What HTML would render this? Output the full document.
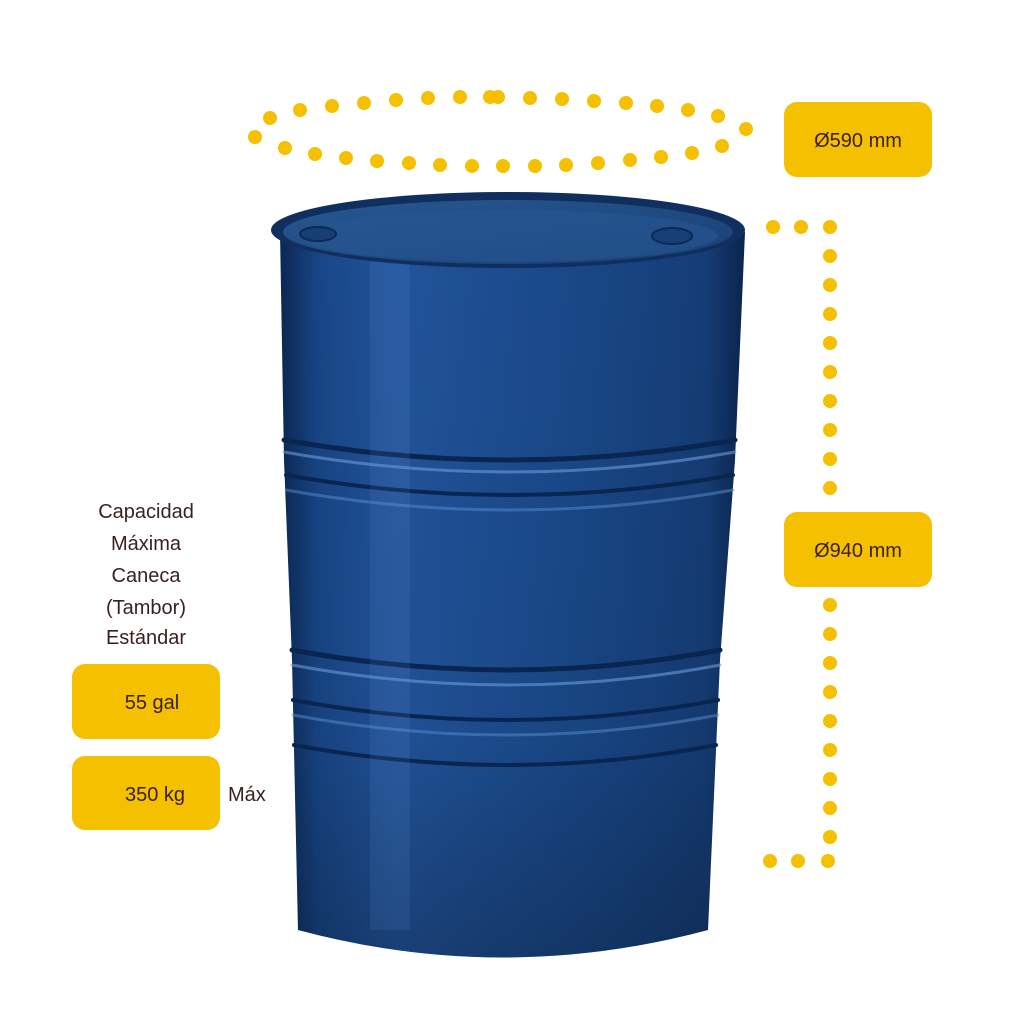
<!DOCTYPE html>
<html><head><meta charset="utf-8"><style>
html,body{margin:0;padding:0;background:#fff;width:1024px;height:1024px;overflow:hidden}
svg{display:block}
text{font-family:"Liberation Sans",sans-serif;fill:#3a1f1f}
</style></head><body>
<svg width="1024" height="1024" viewBox="0 0 1024 1024">
<defs>
<linearGradient id="body" x1="0" x2="1" y1="0" y2="0">
<stop offset="0" stop-color="#0b2752"/>
<stop offset="0.08" stop-color="#184585"/>
<stop offset="0.25" stop-color="#22549c"/>
<stop offset="0.4" stop-color="#1e4f94"/>
<stop offset="0.7" stop-color="#184584"/>
<stop offset="0.92" stop-color="#153c74"/>
<stop offset="1" stop-color="#0a244d"/>
</linearGradient>
<linearGradient id="top" x1="0" x2="1" y1="0" y2="1">
<stop offset="0" stop-color="#275893"/>
<stop offset="1" stop-color="#193f72"/>
</linearGradient>
<linearGradient id="shade" x1="0" x2="0" y1="0" y2="1">
<stop offset="0" stop-color="#000" stop-opacity="0"/>
<stop offset="0.7" stop-color="#000" stop-opacity="0.05"/>
<stop offset="1" stop-color="#000" stop-opacity="0.25"/>
</linearGradient>
</defs>
<path d="M280 232 L745 232 L735 460 L720 660 L708 930 Q503 985 298 930 L292 660 L284 460 Z" fill="url(#body)"/>
<path d="M280 232 L745 232 L735 460 L720 660 L708 930 Q503 985 298 930 L292 660 L284 460 Z" fill="url(#shade)"/>
<g fill="none" stroke-linecap="round">
<path d="M284 440 Q510 480 735 440" stroke="#0a2550" stroke-width="5"/>
<path d="M284 452 Q510 492 735 452" stroke="#6d9bd6" stroke-width="3" opacity="0.6"/>
<path d="M286 475 Q510 515 733 475" stroke="#0a2550" stroke-width="4"/>
<path d="M286 490 Q510 530 733 490" stroke="#5a8bcc" stroke-width="3" opacity="0.5"/>
<path d="M292 650 Q510 690 720 650" stroke="#0a2550" stroke-width="5"/>
<path d="M292 665 Q510 705 720 665" stroke="#6d9bd6" stroke-width="3" opacity="0.6"/>
<path d="M293 700 Q510 740 718 700" stroke="#0a2550" stroke-width="4"/>
<path d="M293 715 Q510 755 718 715" stroke="#5a8bcc" stroke-width="3" opacity="0.5"/>
<path d="M294 745 Q510 785 716 745" stroke="#0a2550" stroke-width="4"/>
</g>
<rect x="370" y="250" width="40" height="680" fill="#6f9fdc" opacity="0.12"/>
<ellipse cx="508" cy="230" rx="237" ry="38" fill="#112f5e"/>
<ellipse cx="508" cy="232" rx="225" ry="32" fill="url(#top)"/>
<ellipse cx="508" cy="236" rx="210" ry="26" fill="#265792" opacity="0.6"/>
<ellipse cx="318" cy="234" rx="18" ry="7" fill="#173f75" stroke="#0c2a55" stroke-width="2"/>
<ellipse cx="672" cy="236" rx="20" ry="8" fill="#173f75" stroke="#0c2a55" stroke-width="2"/>
<g fill="#f5c000">
<circle cx="255" cy="137" r="7"/><circle cx="270" cy="118" r="7"/><circle cx="300" cy="110" r="7"/>
<circle cx="332" cy="106" r="7"/><circle cx="364" cy="103" r="7"/><circle cx="396" cy="100" r="7"/>
<circle cx="428" cy="98" r="7"/><circle cx="460" cy="97" r="7"/><circle cx="490" cy="97" r="7"/>
<circle cx="498" cy="97" r="7"/><circle cx="530" cy="98" r="7"/><circle cx="562" cy="99" r="7"/>
<circle cx="594" cy="101" r="7"/><circle cx="626" cy="103" r="7"/><circle cx="657" cy="106" r="7"/>
<circle cx="688" cy="110" r="7"/><circle cx="718" cy="116" r="7"/><circle cx="746" cy="129" r="7"/>
<circle cx="722" cy="146" r="7"/><circle cx="692" cy="153" r="7"/><circle cx="661" cy="157" r="7"/>
<circle cx="630" cy="160" r="7"/><circle cx="598" cy="163" r="7"/><circle cx="566" cy="165" r="7"/>
<circle cx="535" cy="166" r="7"/><circle cx="503" cy="166" r="7"/><circle cx="472" cy="166" r="7"/>
<circle cx="440" cy="165" r="7"/><circle cx="409" cy="163" r="7"/><circle cx="377" cy="161" r="7"/>
<circle cx="346" cy="158" r="7"/><circle cx="315" cy="154" r="7"/><circle cx="285" cy="148" r="7"/>
<circle cx="773" cy="227" r="7"/><circle cx="801" cy="227" r="7"/>
<circle cx="830" cy="227" r="7"/><circle cx="830" cy="256" r="7"/><circle cx="830" cy="285" r="7"/>
<circle cx="830" cy="314" r="7"/><circle cx="830" cy="343" r="7"/><circle cx="830" cy="372" r="7"/>
<circle cx="830" cy="401" r="7"/><circle cx="830" cy="430" r="7"/><circle cx="830" cy="459" r="7"/>
<circle cx="830" cy="488" r="7"/>
<circle cx="830" cy="605" r="7"/><circle cx="830" cy="634" r="7"/><circle cx="830" cy="663" r="7"/>
<circle cx="830" cy="692" r="7"/><circle cx="830" cy="721" r="7"/><circle cx="830" cy="750" r="7"/>
<circle cx="830" cy="779" r="7"/><circle cx="830" cy="808" r="7"/><circle cx="830" cy="837" r="7"/>
<circle cx="828" cy="861" r="7"/><circle cx="798" cy="861" r="7"/><circle cx="770" cy="861" r="7"/>
</g>
<g fill="#f5c000">
<rect x="784" y="102" width="148" height="75" rx="13"/>
<rect x="784" y="512" width="148" height="75" rx="13"/>
<rect x="72" y="664" width="148" height="75" rx="13"/>
<rect x="72" y="756" width="148" height="74" rx="13"/>
</g>
<text x="858" y="147" font-size="20" text-anchor="middle">Ø590 mm</text>
<text x="858" y="557" font-size="20" text-anchor="middle">Ø940 mm</text>
<text x="152" y="709" font-size="20" text-anchor="middle">55 gal</text>
<text x="155" y="801" font-size="20" text-anchor="middle">350 kg</text>
<text x="228" y="801" font-size="20">Máx</text>
<g font-size="20" text-anchor="middle">
<text x="146" y="518">Capacidad</text>
<text x="146" y="550">Máxima</text>
<text x="146" y="582">Caneca</text>
<text x="146" y="614">(Tambor)</text>
<text x="146" y="644">Estándar</text>
</g>
</svg>
</body></html>
